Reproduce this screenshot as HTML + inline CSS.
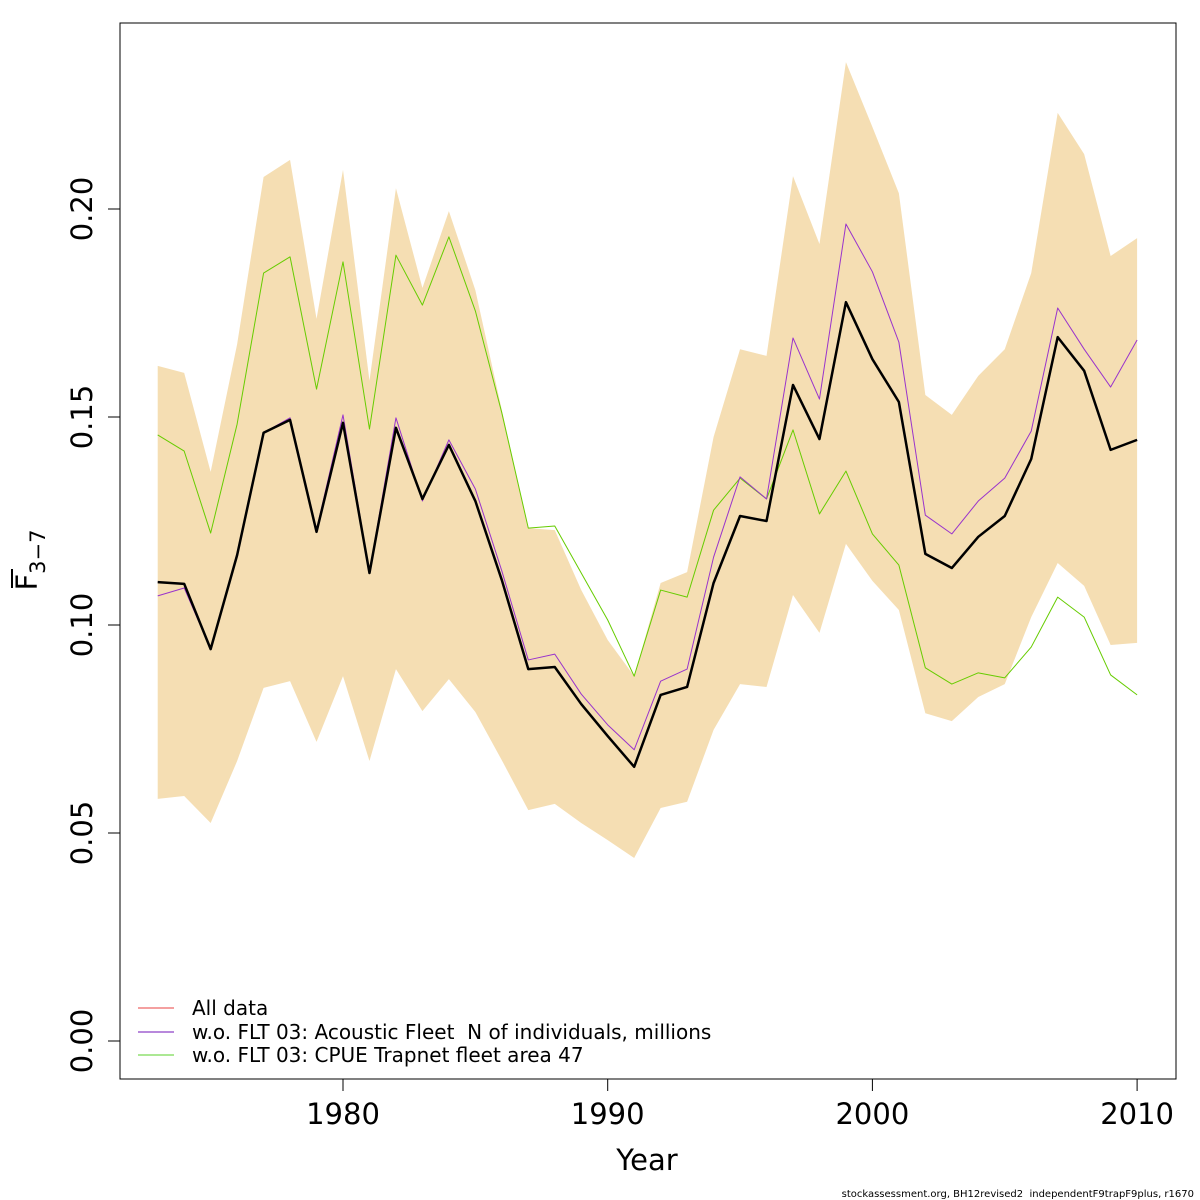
<!DOCTYPE html>
<html><head><meta charset="utf-8"><style>
html,body{margin:0;padding:0;background:#fff;}
svg{display:block;font-family:"DejaVu Sans","Liberation Sans",sans-serif;}
</style></head><body>
<svg id="chart" width="1200" height="1200" viewBox="0 0 1200 1200">
<g id="band"></g>
<g id="lines"></g>
<rect x="120" y="23" width="1056" height="1056" fill="none" stroke="#000" stroke-width="1"/>
<g id="axes"></g>
<text x="647" y="1170" font-size="29" text-anchor="middle">Year</text>
<g transform="translate(37,560) rotate(-90)">
<text x="0" y="0" font-size="29" text-anchor="middle">F<tspan font-size="21" dy="8">3−7</tspan></text>
<line x1="-28" x2="-9" y1="-25" y2="-25" stroke="#000" stroke-width="2"/>
</g>
<g>
<line x1="138" x2="174" y1="1008" y2="1008" stroke="#f08080" stroke-width="1.5"/>
<text x="192" y="1015" font-size="20">All data</text>
<line x1="138" x2="174" y1="1032" y2="1032" stroke="#a060d0" stroke-width="1.5"/>
<text x="192" y="1039" font-size="20" style="white-space:pre">w.o. FLT 03: Acoustic Fleet  N of individuals, millions</text>
<line x1="138" x2="174" y1="1055" y2="1055" stroke="#90e070" stroke-width="1.5"/>
<text x="192" y="1062" font-size="20">w.o. FLT 03: CPUE Trapnet fleet area 47</text>
</g>
<text x="1194" y="1197" font-size="10" text-anchor="end" style="white-space:pre">stockassessment.org, BH12revised2  independentF9trapF9plus, r1670</text>
</svg>
<script>
const years = [1973,1974,1975,1976,1977,1978,1979,1980,1981,1982,1983,1984,1985,1986,1987,1988,1989,1990,1991,1992,1993,1994,1995,1996,1997,1998,1999,2000,2001,2002,2003,2004,2005,2006,2007,2008,2009,2010];
const allData = [0.1103,0.1099,0.0942,0.1168,0.1462,0.1493,0.1224,0.1486,0.1125,0.1474,0.1303,0.1433,0.1298,0.1108,0.0894,0.0899,0.0810,0.0733,0.0659,0.0832,0.0851,0.1101,0.1262,0.1250,0.1577,0.1447,0.1776,0.1639,0.1536,0.1171,0.1137,0.1212,0.1262,0.1399,0.1692,0.1611,0.1421,0.1445];
const woAcoustic = [0.1070,0.1089,0.0942,0.1173,0.1462,0.1498,0.1229,0.1505,0.1127,0.1498,0.1298,0.1445,0.1327,0.1130,0.0916,0.0930,0.0834,0.0760,0.0700,0.0865,0.0894,0.1163,0.1356,0.1303,0.1690,0.1543,0.1964,0.1849,0.1680,0.1264,0.1219,0.1298,0.1353,0.1466,0.1762,0.1663,0.1572,0.1685];
const woCpue = [0.1457,0.1418,0.1221,0.1483,0.1846,0.1885,0.1567,0.1873,0.1471,0.1889,0.1769,0.1933,0.1755,0.1510,0.1233,0.1238,0.1125,0.1012,0.0877,0.1084,0.1067,0.1276,0.1353,0.1303,0.1469,0.1267,0.1370,0.1219,0.1144,0.0897,0.0858,0.0885,0.0873,0.0947,0.1067,0.1019,0.0880,0.0832];
const upper = [0.1623,0.1606,0.1368,0.1675,0.2077,0.2118,0.1736,0.2094,0.1587,0.2050,0.1810,0.1995,0.1805,0.1517,0.1233,0.1228,0.1084,0.0964,0.0877,0.1101,0.1127,0.1452,0.1663,0.1647,0.2079,0.1916,0.2353,0.2197,0.2038,0.1553,0.1505,0.1599,0.1663,0.1846,0.2231,0.2132,0.1887,0.1930];
const lower = [0.0582,0.0589,0.0524,0.0673,0.0849,0.0865,0.0719,0.0877,0.0673,0.0894,0.0793,0.0870,0.0791,0.0675,0.0555,0.0570,0.0524,0.0483,0.0440,0.0560,0.0575,0.0748,0.0858,0.0851,0.1072,0.0981,0.1195,0.1106,0.1036,0.0788,0.0769,0.0827,0.0858,0.1019,0.1149,0.1094,0.0952,0.0957];
const yTicks = [0,0.05,0.10,0.15,0.20];
const yTickLabels = ["0.00","0.05","0.10","0.15","0.20"];
const xTicks = [1980,1990,2000,2010];

const NS="http://www.w3.org/2000/svg";
const xs = y => 343 + (y-1980)*26.47;
const ys = v => 1041 - v*4160;
function mk(tag, attrs, parent){const e=document.createElementNS(NS,tag);for(const k in attrs)e.setAttribute(k,attrs[k]);parent.appendChild(e);return e;}

const band=document.getElementById('band');
let pts=years.map((y,i)=>xs(y)+','+ys(upper[i]));
for(let i=years.length-1;i>=0;i--)pts.push(xs(years[i])+','+ys(lower[i]));
const poly=mk('polygon',{points:pts.join(' '),fill:'#f5deb3',stroke:'none'},band);



const lines=document.getElementById('lines');
function line(data,color,w,name){
  const p=mk('polyline',{points:years.map((y,i)=>xs(y)+','+ys(data[i])).join(' '),fill:'none',stroke:color,'stroke-width':w,'stroke-linejoin':'round'},lines);
  
  
}
line(woCpue,'#66cc00',1,'line-wo-cpue');
line(woAcoustic,'#9933cc',1,'line-wo-acoustic');
line(allData,'#f08080',1,'line-all-data-red');
line(allData,'#000',2.5,'line-all-data');

const axes=document.getElementById('axes');
yTicks.forEach((v,i)=>{
  const t=mk('line',{x1:120,x2:108,y1:ys(v),y2:ys(v),stroke:'#000'},axes);
  
  
  const tx=mk('text',{x:0,y:0,'font-size':29,'text-anchor':'middle',transform:`translate(92,${ys(v)}) rotate(-90)`},axes);
  tx.textContent=yTickLabels[i];
  
  
});
xTicks.forEach(y=>{
  const t=mk('line',{x1:xs(y),x2:xs(y),y1:1079,y2:1091,stroke:'#000'},axes);
  
  
  const tx=mk('text',{x:xs(y),y:1124,'font-size':29,'text-anchor':'middle'},axes);
  tx.textContent=y;
  
  
});
</script>
</body></html>
